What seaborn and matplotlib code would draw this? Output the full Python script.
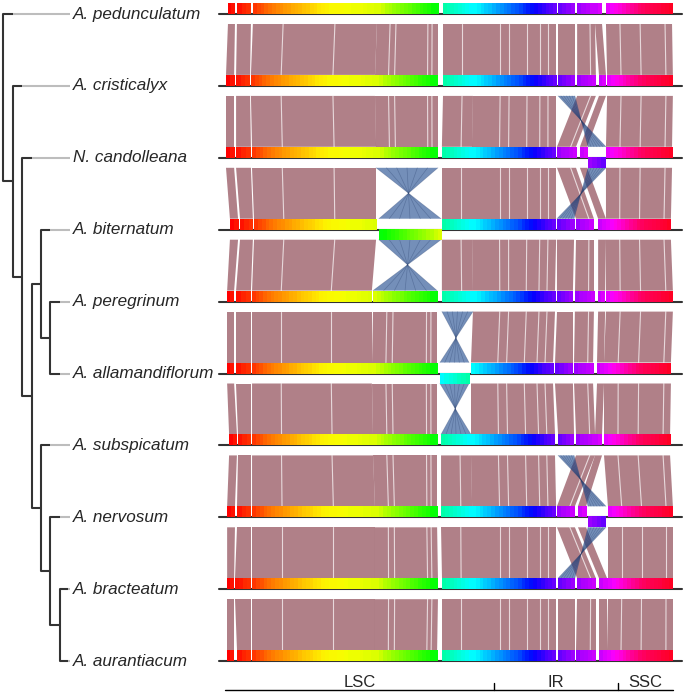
import numpy as np
import matplotlib
matplotlib.use("Agg")
import matplotlib.pyplot as plt
from matplotlib.colors import ListedColormap
from matplotlib.patches import Polygon
import seaborn as sns

# ---- data ----------------------------------------------------------------
species = ["A. pedunculatum", "A. cristicalyx", "N. candolleana", "A. biternatum",
           "A. peregrinum", "A. allamandiflorum", "A. subspicatum", "A. nervosum",
           "A. bracteatum", "A. aurantiacum"]

# tree topology, leaves are indexes into species
tree = (0, (1, (2, ((3, (4, 5)), (6, (7, (8, 9)))))))

# locally collinear blocks, span on the A. pedunculatum genome (kb)
lcb_names = ["A", "B", "C", "D", "E", "F", "G", "H1", "H2", "I"]
lcb_ref_start = [0.7, 3.9, 9.6, 53.9, 77.5, 88.2, 118.6, 125.4, 131.8, 135.7]
lcb_ref_end = [3.2, 8.9, 53.9, 75.7, 88.2, 117.9, 124.6, 131.8, 134.3, 159.3]

# block starts / ends (kb) in every genome, same order as lcb_names
block_start = [
    [0.7, 3.9, 9.6, 53.9, 77.5, 88.2, 118.6, 125.4, 131.8, 135.7],
    [0.0, 3.6, 8.9, 53.2, 77.5, 88.2, 118.6, 125.4, 133.2, 136.1],
    [0.0, 3.6, 9.3, 53.6, 77.1, 87.9, 129.3, 118.2, 126.4, 135.7],
    [1.4, 5.0, 10.0, 54.6, 77.1, 87.9, 118.2, 125.0, 132.9, 135.7],
    [0.4, 3.6, 9.3, 52.5, 77.1, 88.2, 118.2, 124.6, 132.9, 135.7],
    [0.4, 3.6, 9.3, 52.1, 76.4, 87.5, 117.5, 124.3, 132.5, 135.0],
    [1.1, 4.3, 9.3, 52.5, 76.8, 87.5, 118.6, 125.0, 131.8, 135.0],
    [0.4, 3.9, 9.3, 53.2, 76.8, 87.9, 129.3, 118.2, 125.7, 136.4],
    [0.4, 3.2, 9.3, 53.2, 77.1, 87.9, 118.6, 125.4, 133.2, 136.4],
    [0.4, 3.9, 9.3, 53.2, 77.1, 87.9, 118.6, 125.0, 133.2, 136.1],
]
block_end = [
    [3.2, 8.9, 53.9, 75.7, 88.2, 117.9, 124.6, 131.8, 134.3, 159.3],
    [2.9, 8.6, 53.2, 75.7, 88.2, 117.9, 124.6, 132.1, 135.7, 159.6],
    [2.9, 8.9, 53.6, 75.7, 87.9, 117.9, 135.7, 125.0, 129.0, 159.3],
    [4.3, 9.6, 53.6, 76.8, 87.9, 117.9, 124.3, 131.4, 135.7, 158.9],
    [2.9, 8.9, 52.1, 75.4, 88.2, 117.5, 123.9, 131.4, 135.4, 159.6],
    [2.9, 8.9, 52.1, 75.4, 86.8, 116.8, 123.9, 131.1, 135.0, 158.9],
    [3.9, 8.9, 52.5, 75.4, 87.5, 117.5, 124.3, 131.8, 134.3, 158.6],
    [3.2, 8.9, 53.2, 75.4, 87.9, 117.9, 135.7, 124.6, 128.6, 159.6],
    [2.9, 8.9, 53.2, 75.7, 87.9, 117.9, 124.6, 132.1, 136.1, 159.6],
    [2.9, 8.9, 53.2, 75.4, 87.9, 117.9, 124.6, 132.1, 136.1, 159.6],
]
# blocks lying on the reverse strand
inverted = [[], [], ["G"], ["D"], [], ["E"], [], ["G"], [], []]

# small breaks inside the blocks (kb on the reference genome)
breaks_ref = [20.4, 38.9, 58.6, 60.7, 72.1, 73.6, 84.3, 97.9, 101.1, 107.5,
              112.1, 115.0, 130.0, 140.7, 147.9, 156.8]

# region annotation under the last genome
region_names = ["LSC", "IR", "SSC"]
region_bounds = [-0.4, 95.7, 140.0, 159.6]

# ---- style ---------------------------------------------------------------
HUE_KB = [0, 8.6, 15.7, 37, 53.6, 59.6, 75.7, 77.5, 87, 105, 115.7, 125, 136, 148, 159.6]
HUE_VAL = [0, 0.03, 0.08, 0.167, 0.19, 0.24, 0.34, 0.45, 0.5, 0.63, 0.73, 0.78, 0.83, 0.95, 0.99]
RED = (0.50, 0.20, 0.25)
BLUE = (0.12, 0.29, 0.56)
FONT = ["Liberation Sans", "DejaVu Sans"]

sns.set_style("white")
plt.rcParams["font.family"] = FONT
cmap = ListedColormap(sns.color_palette("hsv", 360))

W, H = 686, 694
fig = plt.figure(figsize=(W / 100, H / 100), dpi=100)
ax_tree = fig.add_axes([0, 0, 216 / W, 1])
ax = fig.add_axes([216 / W, 0, 470 / W, 1])
for a in (ax_tree, ax):
    a.set_axis_off()

track_y = [14 + i * 71.9 for i in range(len(species))]


# ---- tree ----------------------------------------------------------------
def node_x(depth):
    return 3.3 + 9.4 * depth


def draw_tree(node, depth):
    if isinstance(node, int):
        return track_y[node]
    x = node_x(depth)
    ys = []
    for child in node:
        if isinstance(child, int):
            cy = track_y[child]
            xe = min(node_x(depth + 1), 68)
            ax_tree.plot([x, xe], [cy, cy], color="#333333", lw=1.5, solid_capstyle="butt")
            ax_tree.plot([xe, 70], [cy, cy], color="#bdbdbd", lw=1.5, solid_capstyle="butt")
            ax_tree.text(73, cy, species[child], fontsize=12.3, style="italic",
                         va="center", ha="left")
        else:
            cy = draw_tree(child, depth + 1)
            ax_tree.plot([x, node_x(depth + 1)], [cy, cy], color="#333333", lw=1.5,
                         solid_capstyle="butt")
        ys.append(cy)
    ax_tree.plot([x, x], [min(ys), max(ys)], color="#333333", lw=1.5)
    return (min(ys) + max(ys)) / 2


draw_tree(tree, 0)
ax_tree.set_xlim(0, 216)
ax_tree.set_ylim(H, 0)


# ---- genomes -------------------------------------------------------------
def to_genome(ref, g, k):
    frac = (ref - lcb_ref_start[k]) / (lcb_ref_end[k] - lcb_ref_start[k])
    s, e = block_start[g][k], block_end[g][k]
    if lcb_names[k] in inverted[g]:
        return e - frac * (e - s)
    return s + frac * (e - s)


for g, y in enumerate(track_y):
    ax.plot([-2.6, 163.0], [y, y], color="#333333", lw=1.5, zorder=2)
    for k, name in enumerate(lcb_names):
        s, e = block_start[g][k], block_end[g][k]
        rev = name in inverted[g]
        n = max(2, int((e - s) * 0.75))
        ref = np.linspace(lcb_ref_start[k], lcb_ref_end[k], n)
        if rev:
            ref = ref[::-1]
        hue = np.interp(ref, HUE_KB, HUE_VAL)
        y0, y1 = (y - 0.5, y + 10) if rev else (y - 11, y)
        ax.imshow(hue[None, :], cmap=cmap, vmin=0, vmax=1, extent=(s, e, y1, y0),
                  aspect="auto", interpolation="nearest", zorder=3)

# ribbons between neighbouring genomes
for g in range(len(species) - 1):
    yt, yb = track_y[g] + 10, track_y[g + 1] - 11
    for k, name in enumerate(lcb_names):
        ts, te = block_start[g][k], block_end[g][k]
        bs, be = block_start[g + 1][k], block_end[g + 1][k]
        flipped = (name in inverted[g]) != (name in inverted[g + 1])
        if not flipped:
            ax.add_patch(Polygon([(ts, yt), (te, yt), (be, yb), (bs, yb)],
                                 closed=True, fc=RED, ec="none", alpha=0.62, zorder=1))
            for r in breaks_ref:
                if lcb_ref_start[k] < r < lcb_ref_end[k]:
                    ax.plot([to_genome(r, g, k), to_genome(r, g + 1, k)], [yt, yb],
                            color="white", lw=0.8, alpha=0.7, zorder=1.5)
        else:
            ax.add_patch(Polygon([(ts, yt), (te, yt), (bs, yb), (be, yb)],
                                 closed=True, fc=BLUE, ec="none", alpha=0.62, zorder=1.6))
            for f in np.linspace(0, 1, 7):
                ax.plot([ts + f * (te - ts), be - f * (be - bs)], [yt, yb],
                        color="#1d3360", lw=0.5, alpha=0.3, zorder=1.7)

# region axis
ya = 690
ax.plot([region_bounds[0], region_bounds[-1]], [ya, ya], color="black", lw=1)
for b in region_bounds[1:-1]:
    ax.plot([b, b], [ya - 7, ya], color="black", lw=1)
for i, name in enumerate(region_names):
    ax.text((region_bounds[i] + region_bounds[i + 1]) / 2, ya - 3, name,
            fontsize=12, ha="center", va="baseline")

ax.set_xlim(-10 / 2.8, 460 / 2.8)
ax.set_ylim(H, 0)

fig.savefig("out.png", dpi=100)
